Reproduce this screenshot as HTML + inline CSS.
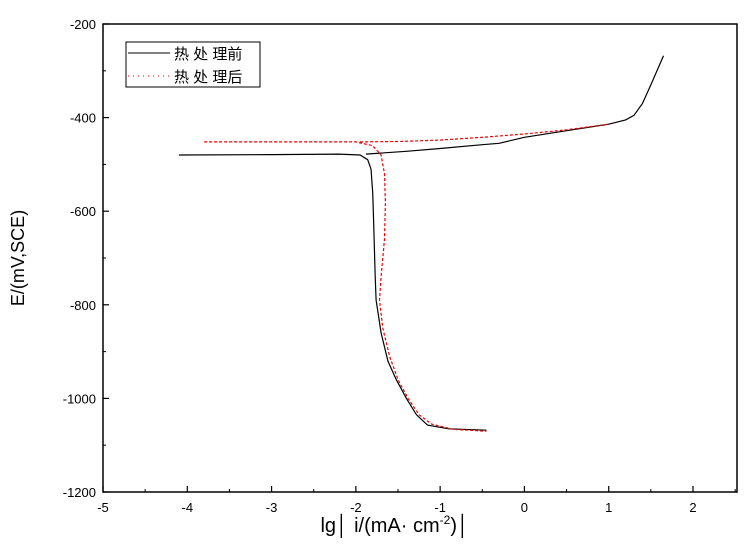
<!DOCTYPE html>
<html><head><meta charset="utf-8">
<style>
body{margin:0;background:#fff;}
svg text{font-family:"Liberation Sans","Noto Sans CJK SC",sans-serif;}
</style></head>
<body>
<svg id="chart" width="751" height="543" xmlns="http://www.w3.org/2000/svg">
<rect x="0" y="0" width="751" height="543" fill="#fff"/>
<g id="marks"></g>
<g id="axes"></g>
<text x="395" y="532" font-size="20" text-anchor="middle">lg│ i/(mA· cm<tspan font-size="12" dy="-8">-2</tspan><tspan dy="8">)│</tspan></text>
<text transform="translate(24,258) rotate(-90)" font-size="18" text-anchor="middle" font-family="Liberation Serif,serif">E/(mV,SCE)</text>
<g>
<rect x="126" y="42" width="134" height="45" fill="#fff" stroke="#000" stroke-width="1"/>
<line x1="128" y1="53" x2="170" y2="53" stroke="#000" stroke-width="1"/>
<text x="174" y="59" font-size="15">热 处 理前</text>
<line x1="128" y1="76" x2="170" y2="76" stroke="#e00" stroke-width="1" stroke-dasharray="1,4"/>
<text x="174" y="82" font-size="15">热 处 理后</text>
</g>
</svg>
<script>
const xTicks=[-5,-4,-3,-2,-1,0,1,2];
const yTicks=[-200,-400,-600,-800,-1000,-1200];
const beforeLg=[-4.1,-3.0,-2.2,-1.95,-1.86,-1.82,-1.80,-1.79,-1.78,-1.77,-1.76,-1.70,-1.62,-1.52,-1.40,-1.28,-1.15,-0.9,-0.45];
const beforeE=[-480,-479,-478,-480,-490,-510,-560,-620,-680,-740,-790,-860,-920,-960,-1000,-1035,-1057,-1065,-1068];
const beforeAnLg=[-1.88,-1.4,-1.0,-0.5,-0.3,0,0.5,1.0,1.2,1.3,1.4,1.5,1.65];
const beforeAnE=[-478,-472,-466,-458,-455,-442,-428,-414,-405,-395,-370,-330,-268];
const afterLg=[-3.8,-2.5,-2.0,-1.80,-1.70,-1.66,-1.65,-1.66,-1.70,-1.72,-1.68,-1.60,-1.50,-1.38,-1.25,-1.1,-0.85,-0.45];
const afterE=[-452,-452,-452,-460,-480,-520,-580,-660,-740,-790,-850,-910,-960,-1000,-1035,-1055,-1066,-1070];
const afterAnLg=[-1.95,-1.5,-1.0,-0.5,0,0.5,1.0];
const afterAnE=[-452,-451,-448,-442,-435,-426,-414];
const X0=103,X1=737,Y0=24,Y1=492;
const sx=v=>X0+(v+5)*(693-103)/7;
const sy=v=>Y0+(-200-v)*(Y1-Y0)/1000;
const NS="http://www.w3.org/2000/svg";
const axes=document.getElementById('axes'),marks=document.getElementById('marks');
function mk(tag,attrs,parent){const e=document.createElementNS(NS,tag);for(const k in attrs)e.setAttribute(k,attrs[k]);parent.appendChild(e);return e;}
const frame=mk('rect',{x:X0,y:Y0,width:X1-X0,height:Y1-Y0,fill:'none',stroke:'#000','stroke-width':1.5},axes);


xTicks.forEach(t=>{
  const x=sx(t);
  const l=mk('line',{x1:x,y1:Y1,x2:x,y2:Y1-6,stroke:'#000','stroke-width':1.2},axes);
  
  
  if(t<2.5){const m=mk('line',{x1:sx(t+0.5),y1:Y1,x2:sx(t+0.5),y2:Y1-3,stroke:'#000'},axes);
  
  }
  const tx=mk('text',{x:x,y:Y1+20,'font-size':13,'text-anchor':'middle'},axes);
  tx.textContent=t;
  
  
});
yTicks.forEach(t=>{
  const y=sy(t);
  const l=mk('line',{x1:X0,y1:y,x2:X0+6,y2:y,stroke:'#000','stroke-width':1.2},axes);
  
  
  if(t>-1200){const m=mk('line',{x1:X0,y1:sy(t-100),x2:X0+3,y2:sy(t-100),stroke:'#000'},axes);
  
  }
  const tx=mk('text',{x:X0-7,y:y+5,'font-size':13,'text-anchor':'end'},axes);
  tx.textContent=t;
  
  
});
function pts(a,b){return a.map((v,i)=>sx(v).toFixed(1)+','+sy(b[i]).toFixed(1)).join(' ');}
let p;
p=mk('polyline',{points:pts(beforeLg,beforeE),fill:'none',stroke:'#000','stroke-width':1.2},marks);


p=mk('polyline',{points:pts(beforeAnLg,beforeAnE),fill:'none',stroke:'#000','stroke-width':1.2},marks);


p=mk('polyline',{points:pts(afterLg,afterE),fill:'none',stroke:'#e00','stroke-width':1.2,'stroke-dasharray':'3,2'},marks);


p=mk('polyline',{points:pts(afterAnLg,afterAnE),fill:'none',stroke:'#e00','stroke-width':1.2,'stroke-dasharray':'3,2'},marks);


</script>
</body></html>
